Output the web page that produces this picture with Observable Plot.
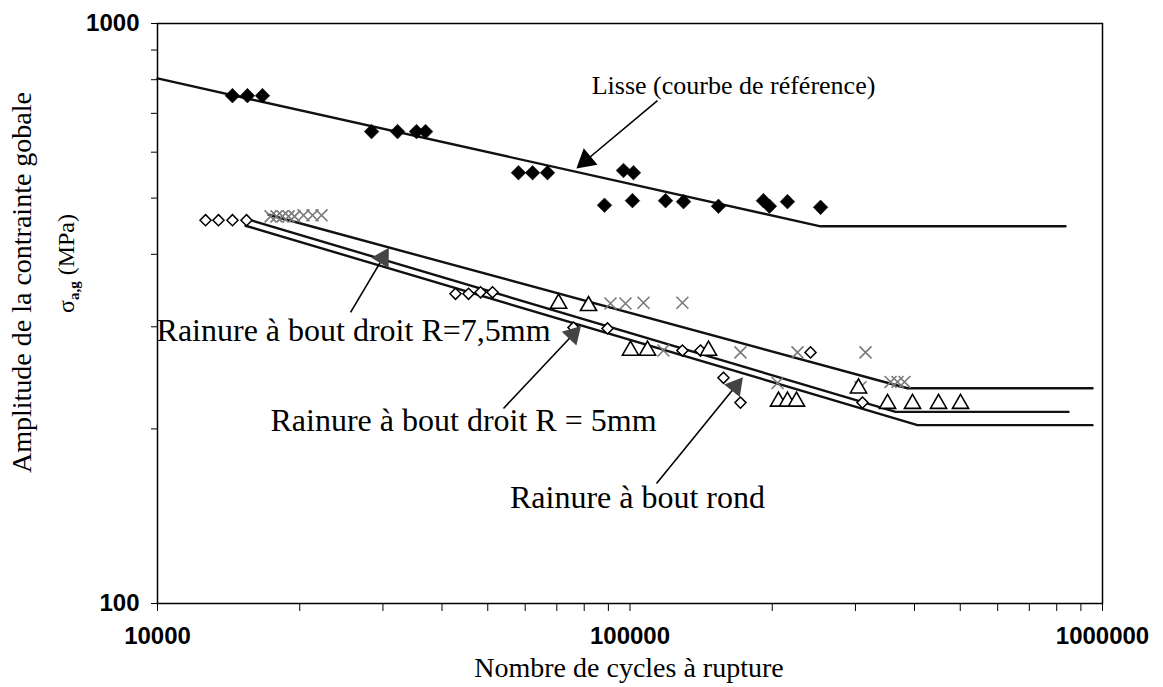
<!DOCTYPE html>
<html><head><meta charset="utf-8">
<script src="https://cdn.jsdelivr.net/npm/d3@7"></script>
<script src="https://cdn.jsdelivr.net/npm/@observablehq/plot@0.6"></script>
<style>body{margin:0;background:#fff}</style>
</head><body><div id="chart"></div>
<script>
// ---- axes ----
const xTicks = [10000,20000,30000,40000,50000,60000,70000,80000,90000,100000,200000,300000,400000,500000,600000,700000,800000,900000,1000000];
const xLabels = [10000, 100000, 1000000];
const yTicks = [100,200,300,400,500,600,700,800,900,1000];
const yLabels = [100, 1000];

// ---- Lisse (reference curve) ----
const lisseN = [14410,15500,16680,28380,32210,35330,36920,58070,62200,66900,96880,101700,88310,101200,118900,129800,153900,191600,197300,215400,253100];
const lisseS = [751,751,751,651,651,651,651,553,553,553,558,553,486,495,495,493,484,495,484,493,482];
const lisseCurveN = [10000, 253100, 835000];
const lisseCurveS = [804, 447, 447];

// ---- Rainure à bout droit R=7,5mm (gray crosses) ----
const r75N = [17350,17860,18390,18940,19500,20370,21290,22240,90930,97830,106800,129100,117700,171300,226200,315100,205200,307500,356000,368300,381000];
const r75S = [465,465,465,465,465,467,467,467,329,329,330,330,273,271,271,271,240,236,241,241,241];
const r75CurveN = [17180, 386600, 952400];
const r75CurveS = [468, 235, 235];

// ---- Rainure à bout droit R = 5mm (open diamonds) ----
const r5N = [12640,13460,14410,15430,42730,45520,48270,51170,75930,89620,129100,141000,157700,171300,241000,310500];
const r5S = [458,458,458,458,342,342,344,344,299,298,273,273,245,222,271,222];
const r5CurveN = [15360, 406000, 952400];
const r5CurveS = [448, 203, 203];

// ---- Rainure à bout rond (open triangles) ----
const rondN = [70600,81700,100250,108900,146600,206200,215400,225100,304500,350800,396200,449800,500600];
const rondS = [329,326,273,273,273,223,223,223,235,221,221,221,221];
const rondCurveN = [15730, 364800, 847300];
const rondCurveS = [458, 214, 214];

// ---- annotations ----
const labelText = ["Lisse (courbe de référence)", "Rainure à bout droit R=7,5mm", "Rainure à bout droit R = 5mm", "Rainure à bout rond"];
const labelN = [165600, 26000, 44430, 103700];
const labelS = [781.8, 295.7, 206.8, 152.3];
const arrowFromN = [114330, 25620, 53980, 113800];
const arrowFromS = [736.5, 317.6, 216.9, 161];
const arrowToN = [77440, 30820, 78570, 173000];
const arrowToS = [564.6, 409.4, 300.3, 245];

const xTitle = "Nombre de cycles à rupture";
const yTitle = "Amplitude de la contrainte gobale";
const yUnit = "σa,g (MPa)";

const pts = (N, S) => N.map((n, i) => ({n, s: S[i]}));
const lisse = pts(lisseN, lisseS), r75 = pts(r75N, r75S), r5 = pts(r5N, r5S), rond = pts(rondN, rondS);
const curves = [
  ...pts(lisseCurveN, lisseCurveS).map(d => ({...d, k: "lisse"})),
  ...pts(r75CurveN, r75CurveS).map(d => ({...d, k: "r75"})),
  ...pts(r5CurveN, r5CurveS).map(d => ({...d, k: "r5"})),
  ...pts(rondCurveN, rondCurveS).map(d => ({...d, k: "rond"}))
];
const labels = labelText.map((t, i) => ({t, n: labelN[i], s: labelS[i], i}));

const base = {
  width: 1163, height: 687,
  marginLeft: 157, marginRight: 61, marginTop: 23, marginBottom: 84,
  x: {type: "log", domain: [1e4, 1e6], label: null},
  y: {type: "log", domain: [100, 1000], label: null},
  style: {fontFamily: "'Liberation Sans', Arial, sans-serif", fontSize: "24px", fontWeight: "bold", color: "black", background: "white"}
};

// first pass to get the scales for arrowhead orientation
const probe = Plot.plot({...base, marks: [Plot.frame()]});
const sx = probe.scale("x"), sy = probe.scale("y");
const TRI_R = 7;
const triTip = 2 * Math.sqrt(Math.PI * TRI_R * TRI_R / (3 * Math.sqrt(3)));
const arrows = arrowFromN.map((n, i) => {
  const x1 = sx.apply(n), y1 = sy.apply(arrowFromS[i]);
  const x2 = sx.apply(arrowToN[i]), y2 = sy.apply(arrowToS[i]);
  const len = Math.hypot(x2 - x1, y2 - y1);
  const t = 1 - triTip / len;
  return {
    x1: n, y1: arrowFromS[i], x2: arrowToN[i], y2: arrowToS[i],
    hx: n * Math.pow(arrowToN[i] / n, t),
    hy: arrowFromS[i] * Math.pow(arrowToS[i] / arrowFromS[i], t),
    angle: Math.atan2(x2 - x1, -(y2 - y1)) * 180 / Math.PI, i
  };
});

const serif = "'Liberation Serif', 'Times New Roman', serif";

const chart = Plot.plot({
  ...base,
  marks: [
    Plot.axisX(xTicks, {tickSize: 8, tickPadding: 15, tickFormat: d => xLabels.includes(d) ? String(d) : "", label: null}),
    Plot.axisY(yTicks, {tickSize: 6, tickPadding: 12, tickFormat: d => yLabels.includes(d) ? String(d) : "", label: null}),
    Plot.line(curves, {x: "n", y: "s", z: "k", stroke: "#111", strokeWidth: 2.4}),
    Plot.dot(lisse, {x: "n", y: "s", symbol: "diamond2", r: 6.6, fill: "black", stroke: "black", strokeWidth: 0.5}),
    Plot.dot(r75, {x: "n", y: "s", symbol: "times", r: 5.5, stroke: "#7a7a7a", strokeWidth: 1.6}),
    Plot.dot(r5, {x: "n", y: "s", symbol: "diamond2", r: 5, fill: "white", stroke: "black", strokeWidth: 1.5}),
    Plot.dot(rond, {x: "n", y: "s", symbol: "triangle", r: 6, fill: "white", stroke: "black", strokeWidth: 1.6}),
    Plot.link(arrows, {x1: "x1", y1: "y1", x2: "hx", y2: "hy", stroke: "black", strokeWidth: 1.6}),
    Plot.dot(arrows.filter(d => d.i === 0), {x: "hx", y: "hy", rotate: "angle", symbol: "triangle", r: TRI_R, fill: "black", stroke: "black"}),
    Plot.dot(arrows.filter(d => d.i > 0), {x: "hx", y: "hy", rotate: "angle", symbol: "triangle", r: TRI_R - 0.5, fill: "#444", stroke: "#444"}),
    Plot.text(labels.filter(d => d.i === 0), {x: "n", y: "s", text: "t", fontFamily: serif, fontWeight: "normal", fontSize: 26, fill: "black"}),
    Plot.text(labels.filter(d => d.i > 0), {x: "n", y: "s", text: "t", fontFamily: serif, fontWeight: "normal", fontSize: 32, fill: "black"}),
    Plot.text([xTitle], {frameAnchor: "bottom", dy: 73, dx: -1, fontFamily: serif, fontWeight: "normal", fontSize: 28, fill: "black"}),
    Plot.text([yTitle], {frameAnchor: "left", dx: -135, dy: -31, rotate: -90, textAnchor: "middle", fontFamily: serif, fontWeight: "normal", fontSize: 28, fill: "black"}),
    Plot.text([yUnit], {frameAnchor: "left", dx: -91, dy: -50, rotate: -90, textAnchor: "middle", fontFamily: serif, fontWeight: "normal", fontSize: 24, fill: "black"}),
    Plot.frame({stroke: "black", strokeWidth: 1.5})
  ]
});

// subscript for sigma label
chart.querySelectorAll("text").forEach(t => {
  if (t.textContent === yUnit) {
    t.textContent = "";
    const ns = "http://www.w3.org/2000/svg";
    const a = document.createElementNS(ns, "tspan"); a.textContent = "σ";
    const b = document.createElementNS(ns, "tspan"); b.textContent = "a,g"; b.setAttribute("font-size", "15"); b.setAttribute("font-weight", "bold"); b.setAttribute("dy", "5");
    const c = document.createElementNS(ns, "tspan"); c.textContent = " (MPa)"; c.setAttribute("dy", "-5");
    t.append(a, b, c);
  }
});
document.getElementById("chart").append(chart);
</script></body></html>
